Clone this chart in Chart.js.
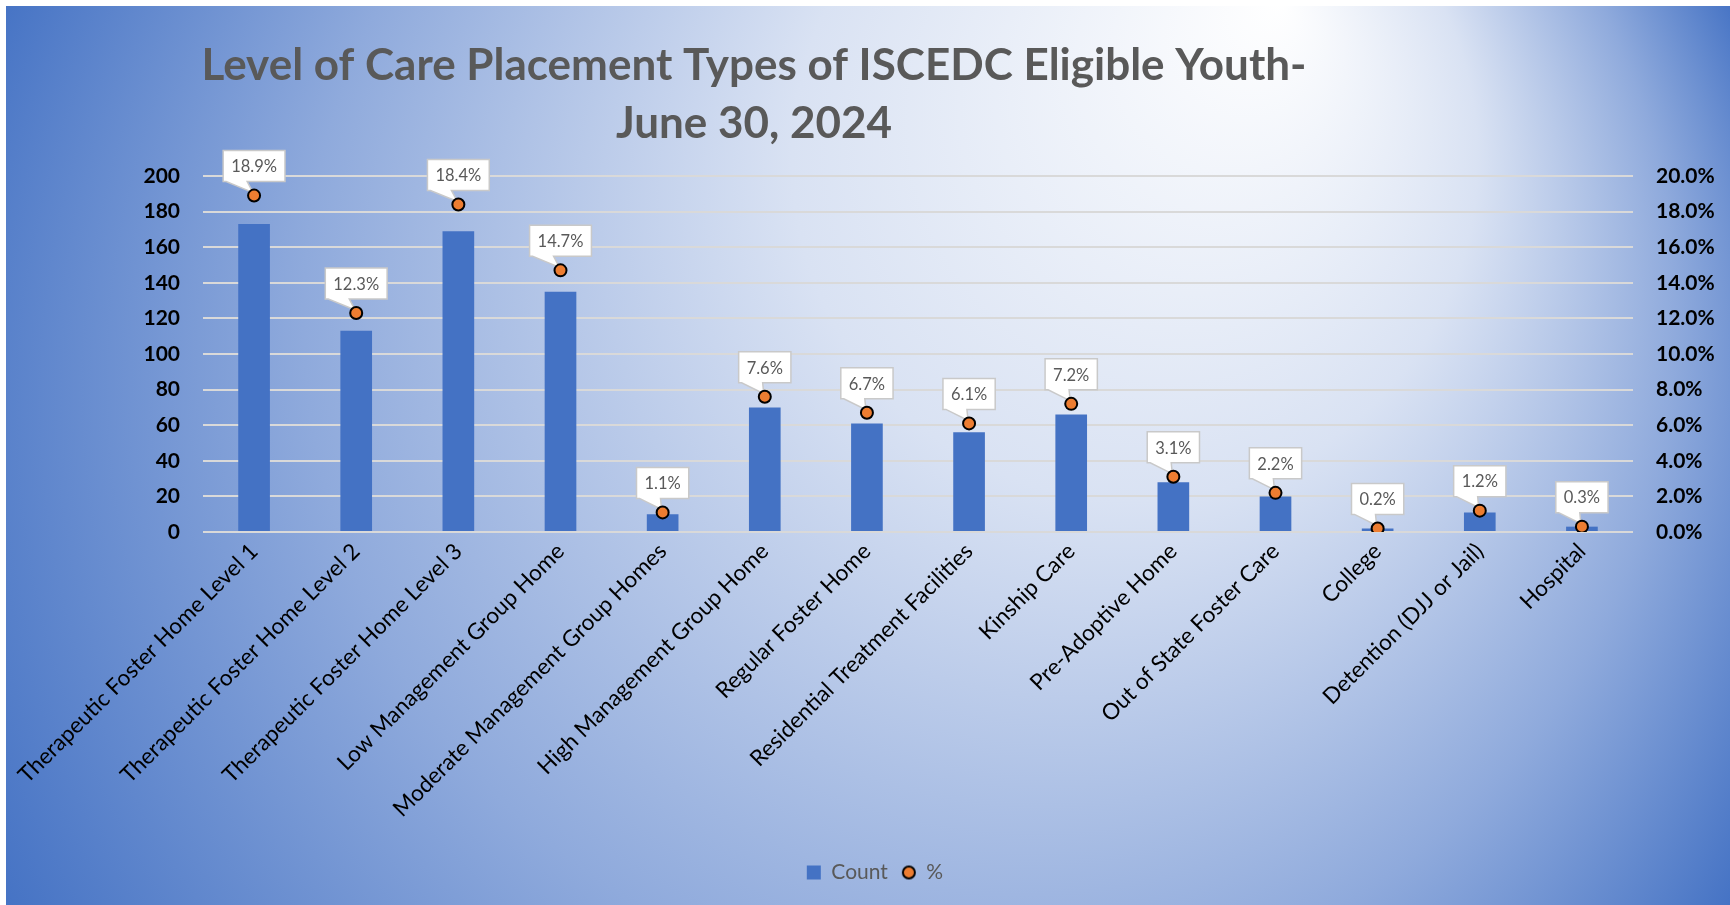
<!DOCTYPE html>
<html>
<head>
<meta charset="utf-8">
<title>Level of Care Placement Types</title>
<script src="https://cdn.jsdelivr.net/npm/chart.js@4.4.1/dist/chart.umd.min.js"></script>
<style>
    html, body { margin: 0; padding: 0; background: #fff; }
    canvas { display: block; }
</style>
</head>
<body>
<canvas id="myChart" width="1730" height="905"></canvas>
<script>
const titleLines = ['Level of Care Placement Types of ISCEDC Eligible Youth-', 'June 30, 2024'];

const categories = [
    'Therapeutic Foster Home Level 1',
    'Therapeutic Foster Home Level 2',
    'Therapeutic Foster Home Level 3',
    'Low Management Group Home',
    'Moderate Management Group Homes',
    'High Management Group Home',
    'Regular Foster Home',
    'Residential Treatment Facilities',
    'Kinship Care',
    'Pre-Adoptive Home',
    'Out of State Foster Care',
    'College',
    'Detention (DJJ or Jail)',
    'Hospital'
];

const counts = [173, 113, 169, 135, 10, 70, 61, 56, 66, 28, 20, 2, 11, 3];
const percents = [18.9, 12.3, 18.4, 14.7, 1.1, 7.6, 6.7, 6.1, 7.2, 3.1, 2.2, 0.2, 1.2, 0.3];

const countTicks = [0, 20, 40, 60, 80, 100, 120, 140, 160, 180, 200];
const percentTicks = [0, 2, 4, 6, 8, 10, 12, 14, 16, 18, 20];

// small canvas used as the legend marker for the % series
const legendDot = document.createElement('canvas');
legendDot.width = 16;
legendDot.height = 16;
(function () {
    const c = legendDot.getContext('2d');
    c.beginPath();
    c.arc(8, 8, 6, 0, Math.PI * 2);
    c.fillStyle = '#ED7D31';
    c.fill();
    c.lineWidth = 2;
    c.strokeStyle = '#000';
    c.stroke();
})();

const backgroundPlugin = {
    id: 'background',
    beforeDraw(chart) {
        const ctx = chart.ctx;
        const w = chart.width;
        const h = chart.height;
        ctx.save();
        ctx.fillStyle = '#ffffff';
        ctx.fillRect(0, 0, w, h);
        const g = ctx.createRadialGradient(1280, 0, 0, 865, 452, 980);
        g.addColorStop(0, '#ffffff');
        g.addColorStop(0.35, '#d9e2f3');
        g.addColorStop(0.7, '#8faadc');
        g.addColorStop(1, '#4472c4');
        ctx.fillStyle = g;
        ctx.fillRect(6, 6, w - 6, h - 6);
        ctx.restore();
    }
};

const titlePlugin = {
    id: 'twoLineTitle',
    afterDraw(chart) {
        const ctx = chart.ctx;
        ctx.save();
        ctx.font = 'bold 44px Lato';
        ctx.fillStyle = '#595959';
        ctx.textAlign = 'center';
        ctx.textBaseline = 'alphabetic';
        ctx.fillText(titleLines[0], 754, 80);
        ctx.fillText(titleLines[1], 754, 138);
        ctx.restore();
    }
};

// white callout boxes above the % points
const calloutPlugin = {
    id: 'callouts',
    beforeDatasetsDraw(chart) {
        const ctx = chart.ctx;
        const points = chart.getDatasetMeta(1).data;
        ctx.save();
        ctx.font = '16.5px Lato';
        ctx.textAlign = 'center';
        ctx.textBaseline = 'middle';
        points.forEach((pt, i) => {
            const text = percents[i].toFixed(1) + '%';
            const w = ctx.measureText(text).width + 16;
            const h = 31;
            const left = pt.x - w / 2;
            const bottom = pt.y - 14;
            const top = bottom - h;
            ctx.beginPath();
            ctx.moveTo(left, top);
            ctx.lineTo(left + w, top);
            ctx.lineTo(left + w, bottom);
            ctx.lineTo(left + 24, bottom);
            ctx.lineTo(pt.x - 1, pt.y - 3);
            ctx.lineTo(left + 3, bottom);
            ctx.lineTo(left, bottom);
            ctx.closePath();
            ctx.fillStyle = '#ffffff';
            ctx.fill();
            ctx.strokeStyle = '#c9c9c9';
            ctx.lineWidth = 1.5;
            ctx.stroke();
            ctx.fillStyle = '#595959';
            ctx.fillText(text, pt.x, top + h / 2 + 1);
        });
        ctx.restore();
    }
};

function drawPlacementChart() {
    let ctx = document.getElementById('myChart').getContext('2d');

    new Chart(ctx, {
        type: 'bar',
        data: {
            labels: categories,
            datasets: [{
                label: 'Count',
                data: counts,
                backgroundColor: '#4472C4',
                borderWidth: 0,
                barPercentage: 0.31,
                categoryPercentage: 1,
                yAxisID: 'y',
                pointStyle: 'rect',
                order: 1
            }, {
                type: 'line',
                label: '%',
                data: percents,
                showLine: false,
                yAxisID: 'y1',
                pointRadius: 6,
                pointBorderWidth: 2,
                pointBackgroundColor: '#ED7D31',
                pointBorderColor: '#000000',
                backgroundColor: '#ED7D31',
                borderColor: '#000000',
                pointStyle: 'circle',
                order: 0
            }]
        },
        options: {
            responsive: false,
            animation: false,
            layout: {
                padding: { top: 176, left: 20, right: 0, bottom: 12 }
            },
            plugins: {
                title: { display: false },
                tooltip: { enabled: false },
                legend: {
                    position: 'bottom',
                    labels: {
                        usePointStyle: true,
                        boxWidth: 14,
                        boxHeight: 14,
                        padding: 14,
                        color: '#595959',
                        font: { family: 'Lato', size: 21 },
                        generateLabels: chart => {
                            const items = Chart.defaults.plugins.legend.labels.generateLabels(chart);
                            items.forEach(item => {
                                if (item.datasetIndex === 1) item.pointStyle = legendDot;
                            });
                            return items.sort((a, b) => a.datasetIndex - b.datasetIndex);
                        }
                    }
                }
            },
            scales: {
                x: {
                    grid: { display: false, drawTicks: false },
                    border: { display: false },
                    ticks: {
                        color: '#000000',
                        font: { family: 'Lato', size: 22.5 },
                        minRotation: 45,
                        maxRotation: 45,
                        autoSkip: false,
                        padding: 6
                    },
                    afterFit: scale => {
                        scale.height = 316;
                        scale.paddingLeft = 0;
                        scale.paddingRight = 0;
                    }
                },
                y: {
                    position: 'left',
                    min: countTicks[0],
                    max: countTicks[countTicks.length - 1],
                    afterBuildTicks: scale => {
                        scale.ticks = countTicks.map(v => ({ value: v }));
                    },
                    grid: { color: '#d9d9d9', lineWidth: 2, drawTicks: false },
                    border: { display: false },
                    ticks: {
                        color: '#000000',
                        font: { family: 'Lato', size: 21, weight: 'bold' },
                        padding: 23
                    },
                    afterFit: scale => { scale.width = 183; }
                },
                y1: {
                    position: 'right',
                    min: percentTicks[0],
                    max: percentTicks[percentTicks.length - 1],
                    afterBuildTicks: scale => {
                        scale.ticks = percentTicks.map(v => ({ value: v }));
                    },
                    grid: { drawOnChartArea: false, drawTicks: false },
                    border: { display: false },
                    ticks: {
                        color: '#000000',
                        font: { family: 'Lato', size: 21, weight: 'bold' },
                        padding: 23,
                        callback: value => value.toFixed(1) + '%'
                    },
                    afterFit: scale => { scale.width = 97; }
                }
            }
        },
        plugins: [backgroundPlugin, calloutPlugin, titlePlugin]
    });
}

document.addEventListener('DOMContentLoaded', function() {
    drawPlacementChart();
});
</script>
</body>
</html>
